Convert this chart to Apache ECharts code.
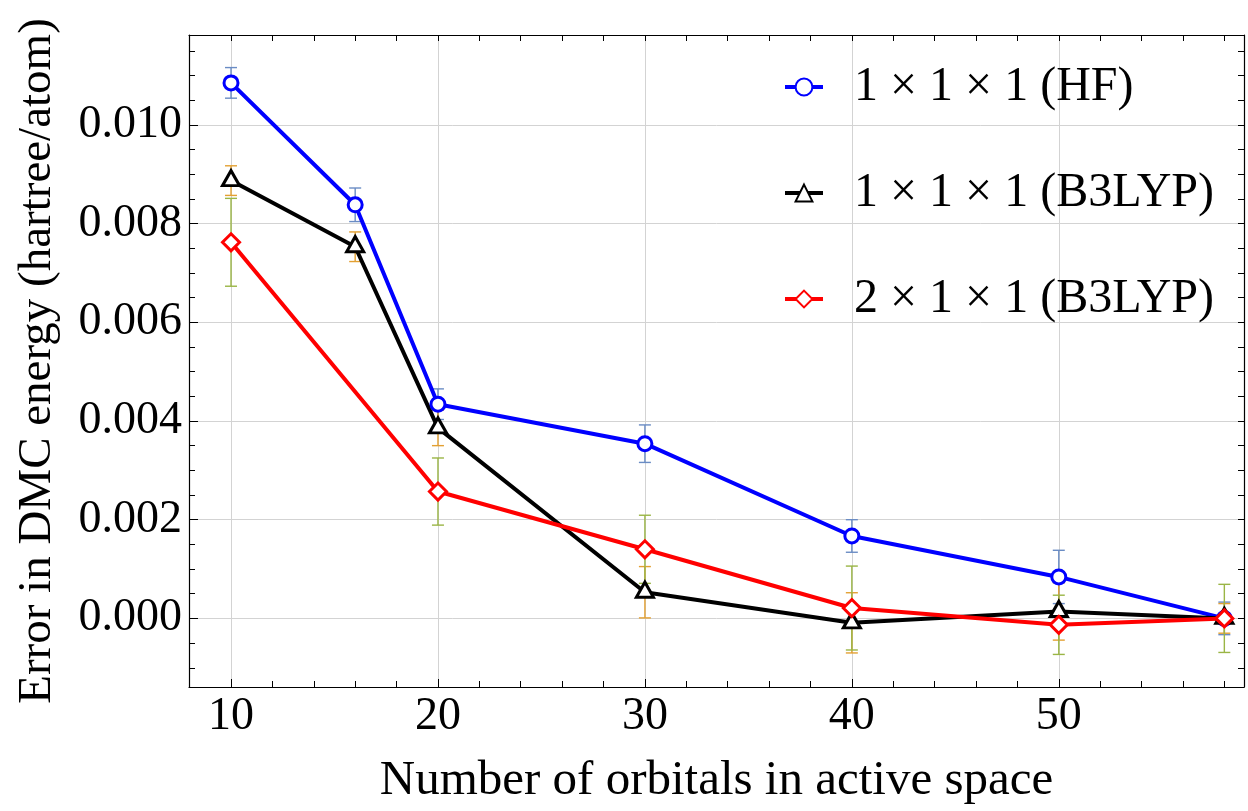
<!DOCTYPE html>
<html><head><meta charset="utf-8">
<script src="https://cdn.jsdelivr.net/npm/echarts@6/dist/echarts.min.js"></script>
<style>html,body{margin:0;padding:0;background:#fff}#c{width:1248px;height:811px}</style>
</head><body><div id="c"></div>
<script>
// ---- data ----
const namesSeries = ['1 × 1 × 1 (HF)', '1 × 1 × 1 (B3LYP)', '2 × 1 × 1 (B3LYP)'];
const xHF = [10, 16, 20, 30, 40, 50, 58];
const yHF = [0.01085, 0.00838, 0.00434, 0.00354, 0.00167, 0.00084, 0.0];
const eHF = [0.00031, 0.00034, 0.00031, 0.00038, 0.00033, 0.00054, 0.00033];
const xB1 = [10, 16, 20, 30, 40, 50, 58];
const yB1 = [0.00887, 0.00753, 0.00386, 0.00053, -0.00009, 0.00014, 0.0];
const eB1 = [0.00030, 0.00030, 0.00036, 0.00052, 0.00061, 0.00058, 0.00030];
const xB2 = [10, 20, 30, 40, 50, 58];
const yB2 = [0.00762, 0.00257, 0.00140, 0.00021, -0.00013, 0.0];
const eB2 = [0.00089, 0.00068, 0.00069, 0.00085, 0.00060, 0.00069];
const xMajor = [10, 20, 30, 40, 50];
const xMinor = [8, 12, 14, 16, 18, 22, 24, 26, 28, 32, 34, 36, 38, 42, 44, 46, 48, 52, 54, 56, 58];
const yMajor = [0, 0.002, 0.004, 0.006, 0.008, 0.010];
const yMinor = [-0.001, -0.0005, 0.0005, 0.001, 0.0015, 0.0025, 0.003, 0.0035, 0.0045, 0.005, 0.0055,
                0.0065, 0.007, 0.0075, 0.0085, 0.009, 0.0095, 0.0105, 0.011, 0.0115];
const xName = 'Number of orbitals in active space';
const yName = 'Error in DMC energy (hartree/atom)';

// ---- build ----
const X_MIN = 7.97, X_MAX = 58.95, Y_MIN = -0.00139, Y_MAX = 0.01182;
const FONT = '"Liberation Serif", "DejaVu Serif", serif';
const zip = (xs, ys) => xs.map((x, i) => [x, ys[i]]);
const zip3 = (xs, ys, es) => xs.map((x, i) => [x, ys[i], es[i]]);
const allX = xMajor.concat(xMinor);
const allY = yMajor.concat(yMinor);

function errRender(color) {
  return function (params, api) {
    const x = api.value(0), y = api.value(1), e = api.value(2);
    const t = api.coord([x, y + e]), b = api.coord([x, y - e]);
    const hw = 6;
    const style = { stroke: color, lineWidth: 1.4 };
    return { type: 'group', children: [
      { type: 'line', shape: { x1: t[0], y1: t[1], x2: b[0], y2: b[1] }, style },
      { type: 'line', shape: { x1: t[0] - hw, y1: t[1], x2: t[0] + hw, y2: t[1] }, style },
      { type: 'line', shape: { x1: b[0] - hw, y1: b[1], x2: b[0] + hw, y2: b[1] }, style }
    ]};
  };
}

const lineAxisStyle = { show: true, onZero: false, lineStyle: { color: '#000', width: 1.2 } };
const noLine = { show: false, onZero: false };
const baseX = { type: 'value', min: X_MIN, max: X_MAX, gridIndex: 0 };
const baseY = { type: 'value', min: Y_MIN, max: Y_MAX, gridIndex: 0 };

const option = {
  animation: false,
  backgroundColor: '#fff',
  grid: { left: 189, right: 4, top: 35, bottom: 124, containLabel: false },
  xAxis: [
    Object.assign({}, baseX, {
      position: 'bottom',
      axisLine: lineAxisStyle,
      axisTick: { show: true, inside: true, length: 8, customValues: xMajor, lineStyle: { color: '#000', width: 1 } },
      axisLabel: { show: true, customValues: xMajor, margin: 7, fontFamily: FONT, fontSize: 46, color: '#000' },
      splitLine: { show: true, lineStyle: { color: '#d3d3d3', width: 1 } },
      name: xName, nameLocation: 'middle', nameGap: 70,
      nameTextStyle: { fontFamily: FONT, fontSize: 49, color: '#000' }
    }),
    Object.assign({}, baseX, {
      position: 'bottom',
      axisLine: noLine,
      axisTick: { show: true, inside: true, length: 6, customValues: xMinor, lineStyle: { color: '#000', width: 1 } },
      axisLabel: { show: false },
      splitLine: { show: false }
    }),
    Object.assign({}, baseX, {
      position: 'top',
      axisLine: lineAxisStyle,
      axisTick: { show: true, inside: true, length: 6, customValues: allX, lineStyle: { color: '#000', width: 1 } },
      axisLabel: { show: false },
      splitLine: { show: false }
    })
  ],
  yAxis: [
    Object.assign({}, baseY, {
      position: 'left',
      axisLine: lineAxisStyle,
      axisTick: { show: true, inside: true, length: 9, customValues: yMajor, lineStyle: { color: '#000', width: 1 } },
      axisLabel: { show: true, customValues: yMajor, margin: 7, fontFamily: FONT, fontSize: 46, color: '#000',
                   formatter: v => v.toFixed(3) },
      splitLine: { show: true, lineStyle: { color: '#d3d3d3', width: 1 } },
      name: yName, nameLocation: 'middle', nameGap: 128, nameRotate: 90,
      nameTextStyle: { fontFamily: FONT, fontSize: 47, color: '#000' }
    }),
    Object.assign({}, baseY, {
      position: 'left',
      axisLine: noLine,
      axisTick: { show: true, inside: true, length: 6, customValues: yMinor, lineStyle: { color: '#000', width: 1 } },
      axisLabel: { show: false },
      splitLine: { show: false }
    }),
    Object.assign({}, baseY, {
      position: 'right',
      axisLine: lineAxisStyle,
      axisTick: { show: true, inside: true, length: 6, customValues: allY, lineStyle: { color: '#000', width: 1 } },
      axisLabel: { show: false },
      splitLine: { show: false }
    })
  ],
  legend: {
    orient: 'vertical',
    left: 783, top: 62, padding: 0,
    itemWidth: 38, itemHeight: 21, itemGap: 56,
    data: namesSeries,
    lineStyle: { width: 4 },
    textStyle: { fontFamily: FONT, fontSize: 48, color: '#000', lineHeight: 50, padding: [0, 0, 0, 26] }
  },
  series: [
    { type: 'custom', name: 'errHF', xAxisIndex: 0, yAxisIndex: 0, z: 1, silent: true,
      renderItem: errRender('#6a8cc4'), encode: { x: 0, y: 1 }, data: zip3(xHF, yHF, eHF) },
    { type: 'custom', name: 'errB1', xAxisIndex: 0, yAxisIndex: 0, z: 1, silent: true,
      renderItem: errRender('#e3a032'), encode: { x: 0, y: 1 }, data: zip3(xB1, yB1, eB1) },
    { type: 'custom', name: 'errB2', xAxisIndex: 0, yAxisIndex: 0, z: 1, silent: true,
      renderItem: errRender('#9ab545'), encode: { x: 0, y: 1 }, data: zip3(xB2, yB2, eB2) },
    { type: 'line', name: namesSeries[0], xAxisIndex: 0, yAxisIndex: 0, z: 3, data: zip(xHF, yHF),
      color: '#0000ff', lineStyle: { width: 4, color: '#0000ff' },
      symbol: 'circle', symbolSize: 14, showAllSymbol: true,
      itemStyle: { color: '#fff', borderColor: '#0000ff', borderWidth: 3 } },
    { type: 'line', name: namesSeries[1], xAxisIndex: 0, yAxisIndex: 0, z: 3, data: zip(xB1, yB1),
      color: '#000', lineStyle: { width: 4, color: '#000' },
      symbol: 'triangle', symbolSize: [17, 15], symbolOffset: [0, -2.5], showAllSymbol: true,
      itemStyle: { color: '#fff', borderColor: '#000', borderWidth: 3 } },
    { type: 'line', name: namesSeries[2], xAxisIndex: 0, yAxisIndex: 0, z: 3, data: zip(xB2, yB2),
      color: '#ff0000', lineStyle: { width: 4, color: '#ff0000' },
      symbol: 'diamond', symbolSize: [17, 17], showAllSymbol: true,
      itemStyle: { color: '#fff', borderColor: '#ff0000', borderWidth: 3 } }
  ]
};
const chart = echarts.init(document.getElementById('c'), null, { renderer: 'canvas' });
chart.setOption(option);
</script>
</body></html>
